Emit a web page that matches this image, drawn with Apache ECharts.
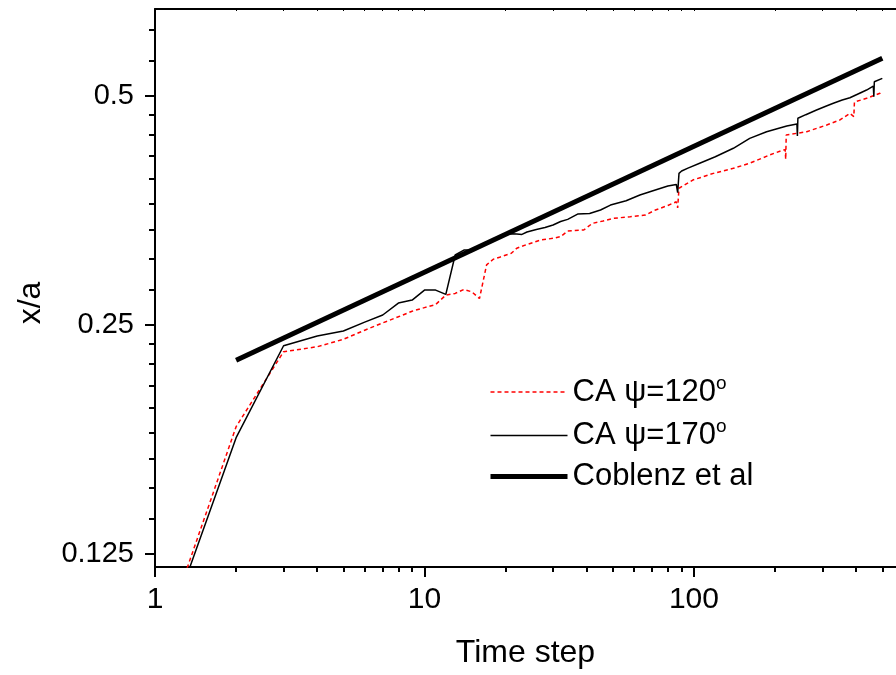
<!DOCTYPE html>
<html>
<head>
<meta charset="utf-8">
<script src="https://cdn.jsdelivr.net/npm/echarts@6/dist/echarts.min.js"></script>
<style>
html,body{margin:0;padding:0;background:#fff;}
#c{width:896px;height:675px;}
</style>
</head>
<body>
<div id="c"></div>
<script>
// ---- data ----
const seriesNames = ['CA ψ=120', 'CA ψ=170', 'Coblenz et al'];

const t120 = [1,2,3,4,5,6,7,8,9,10,11,12,13,14,15,16,17,18,19,21,22,24,27,30,32,34,36,39,42,46,50,58,66,72,80,86,87,88,99,118,140,161,191,214,218,219,220,262,311,348,379,392,394,437,490,500];
const v120 = [0.0905,0.1838,0.2306,0.2341,0.2394,0.2461,0.2516,0.2563,0.2607,0.2635,0.2660,0.2737,0.2751,0.2784,0.2764,0.2709,0.2999,0.3051,0.3070,0.3106,0.3154,0.3190,0.3234,0.3250,0.3267,0.3323,0.3328,0.3333,0.3401,0.3425,0.3452,0.3470,0.3487,0.3541,0.3590,0.3630,0.3563,0.3782,0.3877,0.3956,0.4017,0.4079,0.4183,0.4246,0.4250,0.4128,0.4443,0.4488,0.4580,0.4650,0.4745,0.4698,0.4910,0.4965,0.5041,0.5066];

const t170 = [1,2,3,4,5,6,7,8,9,10,11,12,13,14,15,16,17,18,19,20,21,22,23,24,26,28,30,32,34,37,41,45,49,56,63,70,80,86,87,88,90,95,105,120,140,161,186,205,221,241,242,243,260,285,310,329,355,379,410,437,463,465,467,500];
const v170 = [0.0894,0.1778,0.2348,0.2419,0.2455,0.2522,0.2577,0.2672,0.2696,0.2779,0.2779,0.2743,0.3090,0.3137,0.3137,0.3176,0.3205,0.3234,0.3264,0.3293,0.3296,0.3293,0.3289,0.3313,0.3339,0.3358,0.3384,0.3420,0.3442,0.3498,0.3503,0.3541,0.3594,0.3642,0.3705,0.3751,0.3808,0.3826,0.3731,0.3956,0.3984,0.4020,0.4079,0.4160,0.4268,0.4398,0.4488,0.4532,0.4566,0.4593,0.4430,0.4674,0.4725,0.4792,0.4851,0.4891,0.4940,0.4974,0.5038,0.5091,0.5153,0.4989,0.5221,0.5274];

const tCob = [2, 500];
const vCob = [0.2247, 0.5605];

const xMajorTicks = [1, 10, 100];
const xMinorTicks = [2,3,4,5,6,7,8,9,20,30,40,50,60,70,80,90,200,300,400,500];
const yMajorTicks = [0.125, 0.25, 0.5];
const yMinorTicks = [0.1389,0.1528,0.1667,0.1806,0.1944,0.2083,0.2222,0.2361,0.2778,0.3056,0.3333,0.3611,0.3889,0.4167,0.4444,0.4722,0.5556,0.6111];

const xRange = [1, 562];
const yRange = [0.1202, 0.6506];

// ---- chart ----
const zip = (a, b) => a.map((t, i) => [t, b[i]]);
const FONT = "'Liberation Sans', Arial, sans-serif";
const chart = echarts.init(document.getElementById('c'), null, {renderer: 'canvas'});

const baseX = {type: 'log', logBase: 10, min: xRange[0], max: xRange[1], gridIndex: 0, splitLine: {show: false}};
const baseY = {type: 'log', logBase: 2, min: yRange[0], max: yRange[1], gridIndex: 0, splitLine: {show: false}};

const seriesStyles = [
  {color: '#ff0000', width: 1.5, type: [4, 3]},
  {color: '#000000', width: 1.5, type: 'solid'},
  {color: '#000000', width: 5, type: 'solid'}
];

chart.setOption({
  animation: false,
  backgroundColor: '#fff',
  textStyle: {fontFamily: FONT},
  grid: {left: 155, right: 0, top: 9, bottom: 108, containLabel: false},
  xAxis: [
    Object.assign({}, baseX, {
      position: 'bottom',
      name: 'Time step', nameLocation: 'middle', nameGap: 70,
      nameTextStyle: {fontSize: 32, color: '#000', fontFamily: FONT},
      axisLine: {show: true, lineStyle: {color: '#000', width: 2}},
      axisTick: {show: true, inside: false, length: 10, lineStyle: {color: '#000', width: 2}, customValues: xMajorTicks},
      axisLabel: {show: true, fontSize: 30, color: '#000', margin: 18, fontFamily: FONT, customValues: xMajorTicks, formatter: v => String(Math.round(v))}
    }),
    Object.assign({}, baseX, {
      position: 'bottom',
      axisLine: {show: false},
      axisTick: {show: true, inside: false, length: 5, lineStyle: {color: '#000', width: 2}, customValues: xMinorTicks},
      axisLabel: {show: false}
    }),
    Object.assign({}, baseX, {
      position: 'top',
      axisLine: {show: true, lineStyle: {color: '#000', width: 2}},
      axisTick: {show: true, inside: true, length: 2, lineStyle: {color: '#000', width: 1}, customValues: xMajorTicks.concat(xMinorTicks)},
      axisLabel: {show: false}
    })
  ],
  yAxis: [
    Object.assign({}, baseY, {
      position: 'left',
      name: 'x/a', nameLocation: 'middle', nameGap: 108, nameRotate: 90,
      nameTextStyle: {fontSize: 32, color: '#000', fontFamily: FONT, padding: [0, 30, 0, 0]},
      axisLine: {show: true, lineStyle: {color: '#000', width: 2}},
      axisTick: {show: true, inside: false, length: 10, lineStyle: {color: '#000', width: 2}, customValues: yMajorTicks},
      axisLabel: {show: true, fontSize: 29, color: '#000', margin: 21, fontFamily: FONT, customValues: yMajorTicks, formatter: v => String(+v.toFixed(3))}
    }),
    Object.assign({}, baseY, {
      position: 'left',
      axisLine: {show: false},
      axisTick: {show: true, inside: false, length: 6, lineStyle: {color: '#000', width: 2}, customValues: yMinorTicks},
      axisLabel: {show: false}
    })
  ],
  legend: {
    orient: 'vertical',
    left: 483, top: 369,
    itemWidth: 77, itemHeight: 14, itemGap: 10,
    selectedMode: false,
    itemStyle: {opacity: 0, borderWidth: 0},
    data: seriesNames.map((n, i) => ({
      name: n,
      itemStyle: {opacity: 0, borderWidth: 0, color: 'rgba(0,0,0,0)'},
      lineStyle: {color: seriesStyles[i].color, width: seriesStyles[i].width, type: seriesStyles[i].type}
    })),
    formatter: name => name.indexOf('ψ') >= 0 ? '{a|' + name + '}{s|o}' : '{a|' + name + '}',
    textStyle: {
      color: '#000', fontSize: 31, fontFamily: FONT, padding: [0, 0, 0, 0],
      rich: {
        a: {fontSize: 31, fontFamily: FONT, color: '#000'},
        s: {fontSize: 19, fontFamily: FONT, color: '#000', padding: [0, 0, 17, 0]}
      }
    }
  },
  series: seriesNames.map((n, i) => ({
    name: n, type: 'line', xAxisIndex: 0, yAxisIndex: 0,
    data: i === 0 ? zip(t120, v120) : (i === 1 ? zip(t170, v170) : zip(tCob, vCob)),
    symbol: 'none', showSymbol: false, clip: true,
    lineStyle: seriesStyles[i],
    itemStyle: {color: seriesStyles[i].color},
    z: 3 + i
  }))
});
</script>
</body>
</html>
